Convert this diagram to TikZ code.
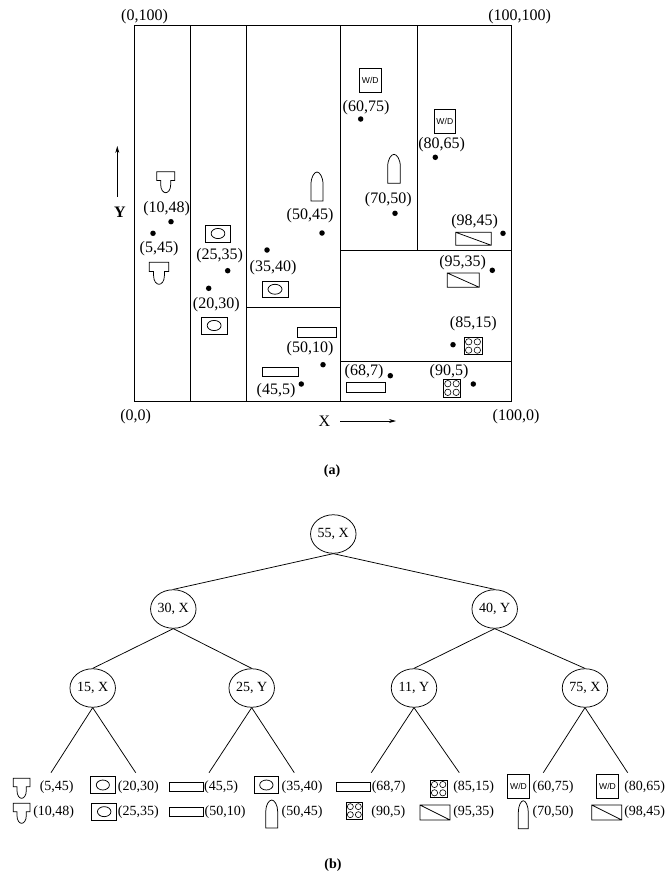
\documentclass[tikz,border=0pt]{standalone}
\usepackage{fontspec}
\setmainfont{Liberation Serif}
\newfontfamily\wdfont{Liberation Sans}
\usetikzlibrary{arrows.meta,shapes.geometric}
\tikzset{
  line/.style={draw=black,line width=0.75pt},
  lab/.style={inner sep=0pt,font=\fontsize{16}{16}\selectfont},
  leaflab/.style={inner sep=0pt,font=\fontsize{14}{14}\selectfont},
  tnode/.style={draw=black,line width=0.75pt,ellipse,minimum width=45.5pt,minimum height=38.5pt,inner sep=0pt,font=\fontsize{14}{14}\selectfont},
  dotm/.style={circle,fill=black,inner sep=0pt,minimum size=5.5pt},
  captext/.style={inner sep=0pt,font=\fontsize{14}{14}\selectfont\bfseries},
}
% shapes: left, top, width, height
\newcommand\ShTee[4]{\begin{scope}[shift={(#1,#2)},x=#3pt,y=-#4pt]
 \draw[line] (0.22,0.42)--(0,0.42)--(0,0)--(1,0)--(1,0.42)--(0.78,0.42)--(0.78,0.6)
   .. controls (0.78,0.88) and (0.62,1) .. (0.5,1) .. controls (0.38,1) and (0.22,0.88) .. (0.22,0.6)--cycle;
 \end{scope}}
\newcommand\ShOval[4]{\begin{scope}[shift={(#1,#2)},x=#3pt,y=-#4pt]
 \draw[line] (0,0) rectangle (1,1);
 \draw[line] (0.5,0.5) ellipse [x radius=0.27,y radius=0.3];
 \end{scope}}
\newcommand\ShRect[4]{\draw[line] (#1,#2) rectangle ++(#3,#4);}
\newcommand\ShDiag[4]{\begin{scope}[shift={(#1,#2)},x=#3pt,y=-#4pt]
 \draw[line] (0,0) rectangle (1,1) (0,0)--(1,1);
 \end{scope}}
\newcommand\ShBul[4]{\begin{scope}[shift={(#1,#2)},x=#3pt,y=-#4pt]
 \draw[line] (0,1)--(0,0.42) .. controls (0,0.17) and (0.28,0) .. (0.5,0) .. controls (0.72,0) and (1,0.17) .. (1,0.42)--(1,1)--cycle;
 \end{scope}}
\newcommand\ShQuad[4]{\begin{scope}[shift={(#1,#2)},x=#3pt,y=-#4pt]
 \draw[line] (0,0) rectangle (1,1);
 \foreach \a in {0.26,0.74}\foreach \b in {0.26,0.74}
   \draw[draw=black,line width=0.6pt] (\a,\b) ellipse [x radius=0.18,y radius=0.18];
 \end{scope}}
\newcommand\ShWD[5]{\draw[line] (#1,#2) rectangle ++(#3,#4);
 \node[inner sep=0pt,font=\wdfont\fontsize{8.6}{9}\selectfont] (#5) at (#1+#3/2,#2+#4/2) {W/D};}
\begin{document}
\begin{tikzpicture}[x=1pt,y=-1pt]
\useasboundingbox (0,0) rectangle (665,876);
% partition
\coordinate (tl) at (134,25);
\coordinate (br) at (511,401);
\draw[line] (tl) rectangle (br);
\draw[line] (190,25)--(190,401) (246,25)--(246,401) (340,25)--(340,401) (417,25)--(417,250);
\draw[line] (246,307)--(340,307) (340,250)--(511,250) (340,361)--(511,361);
% corners
\node[lab] (c1) at (144.5,17) {(0,100)};
\node[lab] (c2) at (519.7,17) {(100,100)};
\node[lab] (c3) at (135.7,417) {(0,0)};
\node[lab] (c4) at (516,417) {(100,0)};
% axes
\node[lab] (xl) at (324.3,421) {X};
\coordinate (xa) at (340,421); \coordinate (xb) at (396,421);
\draw[line,-{Stealth[length=7pt,width=4pt]}] (xa)--(xb);
\node[lab,font=\fontsize{16}{16}\selectfont\bfseries] (yl) at (120,212) {Y};
\coordinate (ya) at (117.3,196.7); \coordinate (yb) at (117.3,146);
\draw[line,-{Stealth[length=7pt,width=4pt]}] (ya)--(yb);
% top shapes
\ShTee{156.7}{171.7}{18}{21}
\ShTee{149.3}{262.3}{19.4}{22}
\ShOval{205.3}{225}{25.4}{17}
\ShOval{201.3}{317}{25.7}{17}
\ShOval{262}{281}{26}{16.5}
\ShBul{311}{172}{12}{29}
\ShRect{297.7}{327.7}{38.3}{10}
\ShRect{262.3}{367.3}{36}{8.7}
\ShWD{359.3}{68.7}{22}{24}{wa}
\ShWD{434}{109.3}{21.7}{24}{wb}
\ShBul{387.7}{154.3}{12.6}{29}
\ShDiag{455.7}{232.3}{35.6}{13}
\ShDiag{447.3}{273}{32}{14.3}
\ShQuad{464}{337.3}{18}{17.4}
\ShRect{346.3}{382.7}{39.4}{9.6}
\ShQuad{443.3}{379}{17.4}{18}
% dots
\foreach \n/\p in {d1/{171,221.7},d2/{153,233.3},d3/{227.7,270.7},d4/{208.7,288.3},d5/{267,250},d6/{322,233},d7/{323,364.7},d8/{301.3,384},d9/{360.7,119},d10/{395,213.3},d11/{435.3,157.3},d12/{503,233.3},d13/{492.3,270.3},d14/{453,344.7},d15/{390.3,375.7},d16/{473.3,384}}
  \node[dotm] (\n) at (\p) {};
% top labels
\node[lab] (t1) at (166.7,208.3) {(10,48)};
\node[lab] (t2) at (159,248.3) {(5,45)};
\node[lab] (t3) at (219.7,256) {(25,35)};
\node[lab] (t4) at (216.3,305) {(20,30)};
\node[lab] (t5) at (273,268) {(35,40)};
\node[lab] (t6) at (310,216) {(50,45)};
\node[lab] (t7) at (310,348.3) {(50,10)};
\node[lab] (t8) at (276,390.7) {(45,5)};
\node[lab] (t9) at (366,107.3) {(60,75)};
\node[lab] (t10) at (388.3,199.3) {(70,50)};
\node[lab] (t11) at (441.7,144.7) {(80,65)};
\node[lab] (t12) at (474.7,222) {(98,45)};
\node[lab] (t13) at (462.7,262.7) {(95,35)};
\node[lab] (t14) at (473.3,323.3) {(85,15)};
\node[lab] (t15) at (364,371.7) {(68,7)};
\node[lab] (t16) at (449,371.7) {(90,5)};
\node[captext] (capa) at (332,471) {(a)};
% tree
\node[tnode] (n0) at (333.3,534) {55, X};
\node[tnode] (n1) at (173.3,609) {30, X};
\node[tnode] (n2) at (494.7,609) {40, Y};
\node[tnode] (n3) at (92.7,688) {15, X};
\node[tnode] (n4) at (251.7,688) {25, Y};
\node[tnode] (n5) at (414,688) {11, Y};
\node[tnode] (n6) at (585,688) {75, X};
\draw[line] (n0.south)--(n1.north);
\draw[line] (n0.south)--(n2.north);
\draw[line] (n1.south)--(n3.north);
\draw[line] (n1.south)--(n4.north);
\draw[line] (n2.south)--(n5.north);
\draw[line] (n2.south)--(n6.north);
\foreach \n/\x in {e1/51,e2/135.7,e3/209,e4/294.3,e5/371.3,e6/459.3,e7/543.3,e8/627.7}
  \coordinate (\n) at (\x,772.7);
\draw[line] (n3.south)--(e1);
\draw[line] (n3.south)--(e2);
\draw[line] (n4.south)--(e3);
\draw[line] (n4.south)--(e4);
\draw[line] (n5.south)--(e5);
\draw[line] (n5.south)--(e6);
\draw[line] (n6.south)--(e7);
\draw[line] (n6.south)--(e8);
% leaves
\ShTee{13.3}{778.3}{16.7}{20}
\ShTee{13.3}{803.3}{16.7}{20}
\ShOval{90.7}{776.7}{24.3}{16.6}
\ShOval{91.7}{803.3}{25}{16.7}
\ShRect{169.3}{782.3}{34}{8.7}
\ShRect{169.3}{807.7}{34}{8.3}
\ShOval{254}{776.7}{24.7}{16.6}
\ShBul{265.7}{800}{12}{28}
\ShRect{336.7}{782.3}{34}{8.7}
\ShQuad{430}{780}{17.3}{17.3}
\ShQuad{346}{802.3}{16.7}{16.7}
\ShDiag{420}{805}{30}{15}
\ShWD{507.7}{774}{21.6}{24.3}{wc}
\ShBul{518.3}{800.7}{10}{28}
\ShWD{596.7}{774.3}{21.6}{24}{wd}
\ShDiag{591.7}{805}{30}{15}
\node[leaflab] (l1) at (56.7,786.7) {(5,45)};
\node[leaflab] (l2) at (53.7,811.7) {(10,48)};
\node[leaflab] (l3) at (138.3,786.7) {(20,30)};
\node[leaflab] (l4) at (138.3,811.7) {(25,35)};
\node[leaflab] (l5) at (221,786.7) {(45,5)};
\node[leaflab] (l6) at (225,811.7) {(50,10)};
\node[leaflab] (l7) at (302,786.7) {(35,40)};
\node[leaflab] (l8) at (302,811.7) {(50,45)};
\node[leaflab] (l9) at (388.7,786.7) {(68,7)};
\node[leaflab] (l10) at (388.3,811.7) {(90,5)};
\node[leaflab] (l11) at (473.7,786.7) {(85,15)};
\node[leaflab] (l12) at (473.7,811.7) {(95,35)};
\node[leaflab] (l13) at (553,786.7) {(60,75)};
\node[leaflab] (l14) at (553,811.7) {(70,50)};
\node[leaflab] (l15) at (644.7,786.7) {(80,65)};
\node[leaflab] (l16) at (644.7,811.7) {(98,45)};
\node[captext] (capb) at (333,865) {(b)};
\end{tikzpicture}
\end{document}
